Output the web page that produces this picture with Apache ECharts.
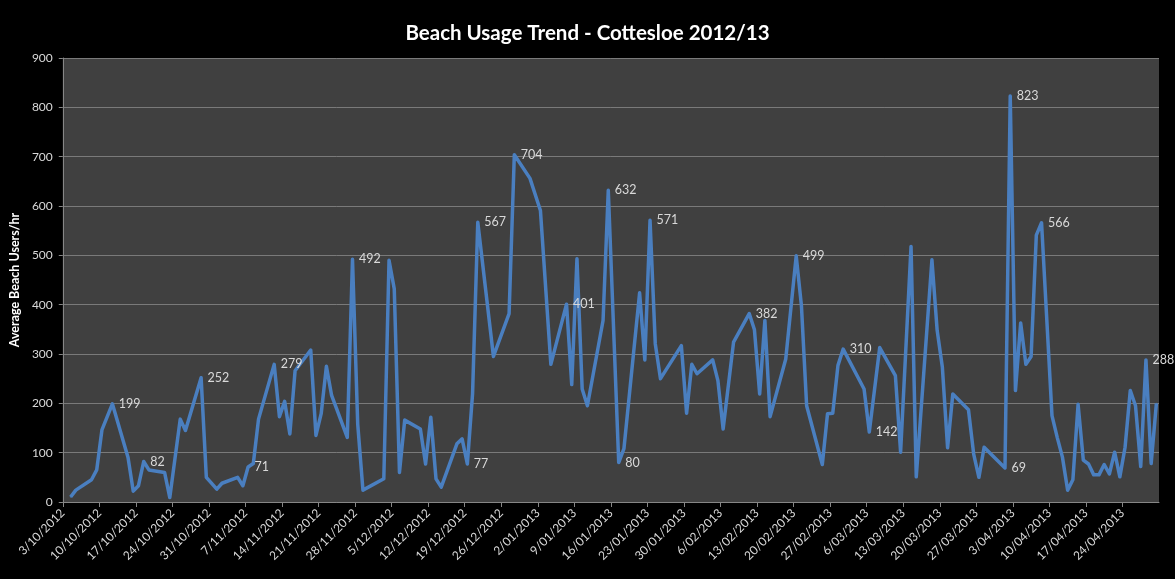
<!DOCTYPE html>
<html><head><meta charset="utf-8">
<script src="https://cdn.jsdelivr.net/npm/echarts@6/dist/echarts.min.js"></script>
<style>html,body{margin:0;padding:0;background:#000;} #c{width:1175px;height:579px;}</style>
</head><body><div id="c"></div>
<script>
// Date axis range (tick every 7 days)
const axisStart = '3/10/2012';
const axisEnd = '1/05/2013';

const dates = [
 '4/10/2012','5/10/2012','8/10/2012','9/10/2012','10/10/2012','12/10/2012','15/10/2012','16/10/2012','17/10/2012','18/10/2012',
 '19/10/2012','22/10/2012','23/10/2012','25/10/2012','26/10/2012','29/10/2012','30/10/2012',
 '1/11/2012','2/11/2012','5/11/2012','6/11/2012','7/11/2012','8/11/2012','9/11/2012','12/11/2012','13/11/2012','14/11/2012',
 '15/11/2012','16/11/2012','19/11/2012','20/11/2012','21/11/2012','22/11/2012','23/11/2012','26/11/2012','27/11/2012','28/11/2012','29/11/2012',
 '3/12/2012','4/12/2012','5/12/2012','6/12/2012','7/12/2012','10/12/2012','11/12/2012','12/12/2012','13/12/2012','14/12/2012',
 '17/12/2012','18/12/2012','19/12/2012','20/12/2012','21/12/2012','24/12/2012','27/12/2012','28/12/2012','31/12/2012',
 '2/01/2013','4/01/2013','7/01/2013','8/01/2013','9/01/2013','10/01/2013','11/01/2013','14/01/2013','15/01/2013','17/01/2013',
 '18/01/2013','21/01/2013','22/01/2013','23/01/2013','24/01/2013','25/01/2013','29/01/2013','30/01/2013','31/01/2013',
 '1/02/2013','4/02/2013','5/02/2013','6/02/2013','8/02/2013','11/02/2013','12/02/2013','13/02/2013','14/02/2013','15/02/2013',
 '18/02/2013','20/02/2013','21/02/2013','22/02/2013','25/02/2013','26/02/2013','27/02/2013','28/02/2013',
 '1/03/2013','5/03/2013','6/03/2013','8/03/2013','11/03/2013','12/03/2013','14/03/2013','15/03/2013','18/03/2013','19/03/2013',
 '20/03/2013','21/03/2013','22/03/2013','25/03/2013','26/03/2013','27/03/2013','28/03/2013',
 '1/04/2013','2/04/2013','3/04/2013','4/04/2013','5/04/2013','6/04/2013','7/04/2013','8/04/2013','10/04/2013','11/04/2013',
 '12/04/2013','13/04/2013','14/04/2013','15/04/2013','16/04/2013','17/04/2013','18/04/2013','19/04/2013','20/04/2013','21/04/2013',
 '22/04/2013','23/04/2013','24/04/2013','25/04/2013','26/04/2013','27/04/2013','28/04/2013','29/04/2013','30/04/2013'
];

const users = [
 10,24,45,65,146,199,90,22,33,82,
 65,60,9,168,145,252,50,
 26,38,50,33,71,78,168,279,173,204,
 138,266,308,135,179,275,216,131,492,158,24,
 47,490,432,60,166,148,77,172,47,30,
 118,128,77,219,567,295,382,704,656,
 591,279,401,238,493,229,195,368,632,80,
 108,424,288,571,321,250,317,180,279,
 260,288,246,148,324,382,349,219,368,173,
 290,499,398,195,76,179,180,277,
 310,229,142,313,256,101,518,51,491,348,
 273,110,219,187,97,50,111,
 69,823,226,363,279,295,541,566,175,131,
 91,24,45,198,85,77,55,55,76,57,
 101,51,111,226,195,72,288,78,200
];

// Points carrying a data label
const labelledDates = [
 '12/10/2012','18/10/2012','29/10/2012','7/11/2012','12/11/2012','27/11/2012','19/12/2012','21/12/2012',
 '28/12/2012','7/01/2013','15/01/2013','17/01/2013','23/01/2013','11/02/2013','20/02/2013','1/03/2013',
 '6/03/2013','1/04/2013','2/04/2013','8/04/2013','28/04/2013'
];

const DAY = 86400000;
function parse(s){ const p = s.split('/').map(Number); return Date.UTC(p[2], p[1]-1, p[0]); }
const t0 = parse(axisStart);
const span = (parse(axisEnd) - t0) / DAY;
function fmt(day){
  const d = new Date(t0 + Math.round(day) * DAY);
  const m = d.getUTCMonth() + 1;
  return d.getUTCDate() + '/' + (m < 10 ? '0' + m : m) + '/' + d.getUTCFullYear();
}
const points = dates.map((d, i) => ({
  value: [(parse(d) - t0) / DAY + 0.5, users[i]],
  label: { show: labelledDates.indexOf(d) >= 0 }
}));

const chart = echarts.init(document.getElementById('c'));
chart.setOption({
  animation: false,
  backgroundColor: '#000000',
  title: {
    text: 'Beach Usage Trend - Cottesloe 2012/13',
    left: 'center', top: 18,
    textStyle: { color: '#ffffff', fontSize: 20.5, fontWeight: 'bold', fontFamily: 'Lato' }
  },
  grid: { left: 59, right: 16, top: 58, bottom: 77, show: true, backgroundColor: '#404040', borderWidth: 0 },
  xAxis: {
    type: 'value', min: 0, max: span, interval: 7,
    axisLine: { show: true, lineStyle: { color: '#868686', width: 1 } },
    axisTick: { show: true, length: 5, lineStyle: { color: '#868686' } },
    splitLine: { show: false },
    axisLabel: {
      rotate: 45, color: '#d9d9d9', fontSize: 12, fontFamily: 'Lato', margin: 9,
      showMaxLabel: false,
      formatter: v => (v >= span ? '' : fmt(v))
    }
  },
  yAxis: {
    type: 'value', min: 0, max: 900, interval: 100,
    name: 'Average Beach Users/hr', nameLocation: 'middle', nameGap: 30,
    nameTextStyle: { color: '#ffffff', fontSize: 12.5, fontWeight: 'bold', fontFamily: 'Lato' },
    axisLine: { show: true, lineStyle: { color: '#868686', width: 1 } },
    axisTick: { show: true, length: 4, lineStyle: { color: '#868686' } },
    splitLine: { show: true, lineStyle: { color: '#7a7a7a', width: 1 } },
    axisLabel: { color: '#d9d9d9', fontSize: 12, fontFamily: 'Lato', margin: 10 }
  },
  series: [{
    type: 'line',
    data: points,
    symbol: 'circle', symbolSize: 1, showSymbol: true,
    itemStyle: { color: '#4a7fc0' },
    lineStyle: { color: '#4a7fc0', width: 3.5, join: 'round' },
    label: {
      show: false, position: 'right', distance: 6,
      color: '#d9d9d9', fontSize: 12.5, fontFamily: 'Lato',
      formatter: p => p.value[1]
    },
    emphasis: { disabled: true }
  }]
});
</script>
</body></html>
